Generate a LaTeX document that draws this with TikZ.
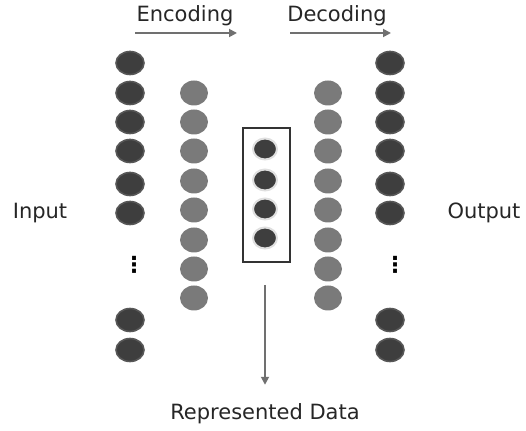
\documentclass[tikz,border=0pt]{standalone}
\usepackage{fontspec}
\setmainfont{DejaVu Sans}
\usetikzlibrary{shapes.geometric,arrows.meta}

\definecolor{darkunit}{HTML}{3E3E3E}
\definecolor{darkrim}{HTML}{575757}
\definecolor{grayunit}{HTML}{7A7A7A}
\definecolor{arrowgray}{HTML}{707070}

\tikzset{
  outunit/.style={ellipse, fill=darkunit, draw=darkrim, line width=0.8pt, minimum width=14pt, minimum height=11.5pt, inner sep=0pt},
  hidunit/.style={ellipse, fill=grayunit, minimum width=14pt, minimum height=12.5pt, inner sep=0pt},
  codeunit/.style={ellipse, fill=darkunit, draw=black!12, line width=1pt, minimum width=12pt, minimum height=10.5pt, inner sep=0pt},
  label/.style={font=\fontsize{10.5}{12}\selectfont, text=black!85},
  flow/.style={draw=arrowgray, line width=0.9pt, -{Triangle[length=4pt,width=4pt]}}
}

\begin{document}
\begin{tikzpicture}[x=0.5pt, y=-0.5pt]
        % Keep the page the size of the reference
        \useasboundingbox (0,0) rectangle (526,431);

        % Input and output layers
        \foreach \y [count=\i] in {63,93,122,151,184,213,320,350} {
            \node[outunit] (in\i) at (130,\y) {};
            \node[outunit] (out\i) at (390,\y) {};
        }
        \node[font=\fontsize{11}{11}\selectfont\bfseries, inner sep=0pt] (indots) at (134,265) {⋮};
        \node[font=\fontsize{11}{11}\selectfont\bfseries, inner sep=0pt] (outdots) at (395,265) {⋮};

        % Hidden layers
        \foreach \y [count=\i] in {93,122,151,181,210,240,269,298} {
            \node[hidunit] (enc\i) at (194,\y) {};
            \node[hidunit] (dec\i) at (328,\y) {};
        }

        % Code layer in its box
        \node[draw=black!80, line width=1pt, minimum width=23.5pt, minimum height=67pt, inner sep=0pt] (code) at (266.5,195) {};
        \foreach \y [count=\i] in {149,180,209,238} {
            \node[codeunit] (z\i) at (265,\y) {};
        }

        % Text labels
        \node[label] (encoding) at (185,16) {Encoding};
        \node[label] (decoding) at (337,16) {Decoding};
        \node[label] (input) at (40,213) {Input};
        \node[label] (output) at (484,213) {Output};
        \node[label] (data) at (265,414) {Represented Data};

        % Arrows
        \coordinate (encA) at (135,33);
        \coordinate (encB) at (237,33);
        \coordinate (decA) at (290,33);
        \coordinate (decB) at (391,33);
        \draw[flow] (encA) -- (encB);
        \draw[flow] (decA) -- (decB);
        \draw[flow, shorten <=11pt, shorten >=6pt] (code.south -| data) -- (data.north);

    \end{tikzpicture}
\end{document}
